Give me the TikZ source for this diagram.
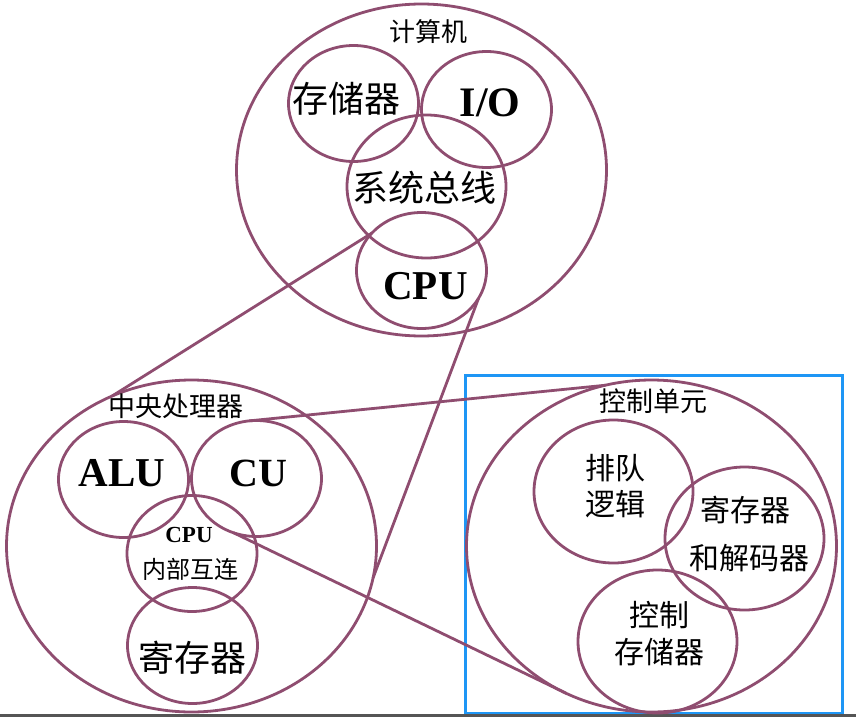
\documentclass[tikz,border=0pt]{standalone}
\usepackage{fontspec}
\setmainfont{Liberation Serif}
\newfontfamily\cjk{Noto Sans CJK SC}
\usetikzlibrary{shapes.geometric}
\definecolor{plum}{RGB}{143,77,112}
\definecolor{frameblue}{RGB}{30,150,245}
\definecolor{rulegray}{RGB}{85,85,85}
\begin{document}
\begin{tikzpicture}[x=1pt,y=-1pt,
  ring/.style={draw=plum, line width=2.8pt, ellipse, inner sep=0pt, outer sep=0pt},
  big/.style={ring, minimum width=370pt, minimum height=332pt},
  part/.style={ring, minimum width=130pt, minimum height=116pt},
  wide/.style={ring, minimum width=159pt, minimum height=143pt},
  link/.style={draw=plum, line width=2.8pt},
  zh/.style={inner sep=0pt, font={\cjk\fontsize{#1}{#1}\selectfont}},
  en/.style={inner sep=0pt, font={\bfseries\fontsize{#1}{#1}\selectfont}},
]
\useasboundingbox (0,0) rectangle (856,717);

% frame around the control-unit detail and the page rule
\node[draw=frameblue, line width=3pt, minimum width=377pt, minimum height=338pt,
      inner sep=0pt, outer sep=0pt] (frame) at (653.5,544) {};
\fill[rulegray] (0,714) rectangle (856,717);

% computer
\node[big]  (pc)   at (421.5,170)   {};
\node[part] (mem)  at (353.5,103.5) {};
\node[part] (io)   at (486.5,109.5) {};
\node[wide] (bus)  at (426.5,186.5) {};
\node[part] (cpuA) at (421.5,270.5) {};

% central processing unit
\node[big]  (cpuB) at (191.5,546)   {};
\node[part] (alu)  at (123.5,479.5) {};
\node[part] (cu)   at (256.5,478.5) {};
\node[part] (icn)  at (192,553.5)   {};
\node[part] (reg)  at (192.5,645.5) {};

% control unit
\node[big]  (ctl)   at (651.5,546)   {};
\node[wide] (queue) at (613.5,491.5) {};
\node[wide] (dec)   at (744.5,538.5) {};
\node[wide] (cmem)  at (657.5,641.5) {};

% zoom lines
\draw[link] (cpuA.143) -- (cpuB.118);
\draw[link] (cpuA.-26) -- (cpuB.-10);
\draw[link] (cu.97) -- (ctl.106);
\draw[link] (cu.-113) -- (ctl.-120);

% labels
\node[zh=26] (lpc)   at (428,32)    {计算机};
\node[zh=36] (lmem)  at (346,99)    {存储器};
\node[en=42] (lio)   at (490,103)   {I/O};
\node[zh=36] (lbus)  at (424.5,188) {系统总线};
\node[en=41] (lcpuA) at (425.5,286.5) {CPU};

\node[zh=27] (lcpuB) at (175.7,406.5) {中央处理器};
\node[en=41] (lalu)  at (121.7,473)   {ALU};
\node[en=40] (lcu)   at (258.3,473)   {CU};
\node[en=23] (licn1) at (189,535)     {CPU};
\node[zh=24] (licn2) at (190.5,569)   {内部互连};
\node[zh=36] (lreg)  at (192.5,657.5) {寄存器};

\node[zh=27] (lctl)   at (653,401.5)  {控制单元};
\node[zh=30] (lq1)    at (615,468.5)  {排队};
\node[zh=30] (lq2)    at (615,504.5)  {逻辑};
\node[zh=30] (ld1)    at (745,510.5)  {寄存器};
\node[zh=30] (ld2)    at (749,558)    {和解码器};
\node[zh=30] (lc1)    at (659,615.5)  {控制};
\node[zh=30] (lc2)    at (659,652.5)  {存储器};
\end{tikzpicture}
\end{document}
